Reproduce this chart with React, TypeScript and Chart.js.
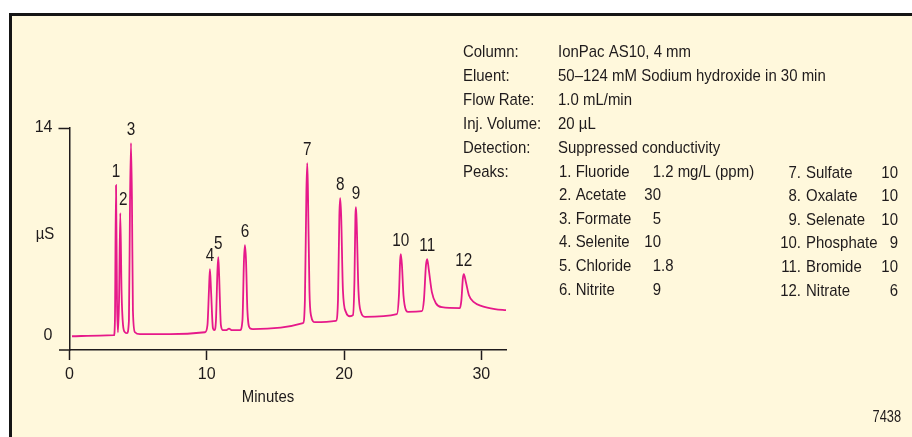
import React, { useEffect, useRef } from "react";
import { Chart, registerables } from "chart.js";

Chart.register(...registerables);

// ---- Data ----
const times = [
  0.18, 2.22, 3.24, 3.31, 3.39, 3.46, 3.53, 3.61, 3.70, 3.79, 3.90, 4.04, 4.19,
  4.33, 4.41, 4.48, 4.55, 4.62, 4.77, 5.13, 7.32, 9.87, 10.05, 10.16, 10.23,
  10.31, 10.45, 10.56, 10.67, 10.78, 10.84, 10.90, 11.03, 11.18, 11.40, 11.62,
  11.84, 12.42, 12.60, 12.71, 12.78, 12.86, 12.96, 13.15, 13.36, 17.01, 17.15,
  17.26, 17.32, 17.37, 17.48, 17.59, 17.88, 19.41, 19.56, 19.66, 19.72, 19.79,
  19.92, 20.14, 20.43, 20.65, 20.76, 20.83, 20.87, 20.92, 21.05, 21.23, 21.52,
  23.85, 24.00, 24.09, 24.14, 24.22, 24.33, 24.51, 24.65, 25.67, 25.82, 25.97,
  26.06, 26.18, 26.40, 26.69, 27.13, 28.44, 28.55, 28.66, 28.73, 28.88, 29.10,
  29.46, 30.04, 30.99, 31.84,
];
const signal = [
  -0.07, -0.03, 0.0, 1.01, 10.14, 2.37, 0.2, 2.37, 8.25, 3.04, 0.68, 0.2, 0.14,
  1.01, 9.13, 12.98, 9.13, 1.69, 0.2, 0.07, 0.07, 0.2, 0.68, 3.04, 4.46,
  3.04, 0.47, 0.34, 1.01, 4.39, 5.27, 4.06, 0.68, 0.34, 0.34, 0.44,
  0.34, 0.34, 1.01, 5.07, 6.09, 5.07, 1.69, 0.47, 0.41, 0.81, 2.37,
  9.8, 11.63, 9.8, 3.04, 1.35, 0.88, 0.97, 2.37, 8.11, 9.26, 8.11,
  3.04, 1.56, 1.28, 1.35, 3.72, 8.11, 8.65, 7.64, 3.04, 1.56, 1.24,
  1.42, 2.7, 5.07, 5.48, 4.73, 2.7, 1.69, 1.58, 1.62, 2.37, 4.73,
  5.14, 4.39, 2.91, 2.16, 1.89, 1.83, 2.37, 3.85, 4.12, 3.58, 2.7,
  2.23, 1.96, 1.76, 1.69,
];

const xTicks = [0, 10, 20, 30];
const yTicks = [0, 14];

const peakApexTimes = [3.39, 3.7, 4.48, 10.23, 10.84, 12.78, 17.32, 19.72, 20.87, 24.14, 26.06, 28.73];
const peakNames = [
  "Fluoride", "Acetate", "Formate", "Selenite", "Chloride", "Nitrite",
  "Sulfate", "Oxalate", "Selenate", "Phosphate", "Bromide", "Nitrate",
];
const peakConc = ["1.2 mg/L (ppm)", "30", "5", "10", "1.8", "9", "10", "10", "10", "9", "10", "6"];

const infoLabels = ["Column:", "Eluent:", "Flow Rate:", "Inj. Volume:", "Detection:", "Peaks:"];
const infoValues = [
  "IonPac AS10, 4 mm",
  "50\u2013124 mM Sodium hydroxide in 30 min",
  "1.0 mL/min",
  "20 \u00b5L",
  "Suppressed conductivity",
];

const yAxisTitle = "\u00b5S";
const xAxisTitle = "Minutes";
const figureNumber = "7438";

// ---- Styles ----
const FONT = '"Liberation Sans", Arial, sans-serif';
const SX = 0.88; // horizontal condensing of annotation text
const TEXT = "#1f1b1c";
const LINE = "#e6198a";
const CREAM = "#fff8dc";

function drawText(ctx: CanvasRenderingContext2D, s: string, x: number, y: number, align: CanvasTextAlign, sx = SX) {
  ctx.save();
  ctx.translate(x, y);
  ctx.scale(sx, 1);
  ctx.textAlign = align;
  ctx.fillText(s, 0, 0);
  ctx.restore();
}

const decorPlugin = {
  id: "decor",
  beforeDraw(chart: any) {
    const { ctx, width, height } = chart;
    ctx.save();
    ctx.fillStyle = "#ffffff";
    ctx.fillRect(0, 0, width, height);
    ctx.fillStyle = CREAM;
    ctx.fillRect(9, 13, width - 9, height - 13);
    ctx.fillStyle = "#151515";
    ctx.fillRect(9, 13, 3, height - 13);
    ctx.fillRect(9, 13, width - 9, 3);
    ctx.restore();
  },
  afterDraw(chart: any) {
    const { ctx } = chart;
    const xs = chart.scales.x;
    const ys = chart.scales.y;
    ctx.save();
    // x-axis extension to the left of the y axis
    ctx.strokeStyle = TEXT;
    ctx.lineWidth = 1.5;
    ctx.beginPath();
    ctx.moveTo(59, ys.bottom);
    ctx.lineTo(xs.left, ys.bottom);
    ctx.stroke();

    ctx.fillStyle = TEXT;
    ctx.textBaseline = "middle";
    ctx.font = `17px ${FONT}`;

    // axis titles
    drawText(ctx, yAxisTitle, 45, 234, "center");
    drawText(ctx, xAxisTitle, 268, 397, "center");

    // info block
    infoLabels.forEach((l, i) => drawText(ctx, l, 463, 52 + i * 24, "left"));
    infoValues.forEach((v, i) => drawText(ctx, v, 558, 52 + i * 24, "left"));

    // peaks list, left column
    for (let i = 0; i < 6; i++) {
      const y = 172 + i * 23.6;
      drawText(ctx, `${i + 1}. ${peakNames[i]}`, 559, y, "left");
      const c = peakConc[i];
      const dot = c.indexOf(".");
      if (dot >= 0) {
        const w = ctx.measureText(c.slice(0, dot)).width * SX;
        drawText(ctx, c, 661 - w, y, "left");
      } else {
        drawText(ctx, c, 661, y, "right");
      }
    }
    // right column
    for (let i = 6; i < 12; i++) {
      const y = 173 + (i - 6) * 23.6;
      drawText(ctx, `${i + 1}.`, 801, y, "right");
      drawText(ctx, peakNames[i], 806, y, "left");
      drawText(ctx, peakConc[i], 898, y, "right");
    }

    // peak labels
    ctx.font = `18px ${FONT}`;
    peakApexTimes.forEach((t, i) => {
      let best = 0;
      let bestV = -Infinity;
      times.forEach((tt, j) => {
        if (Math.abs(tt - t) < 0.06 && signal[j] > bestV) {
          bestV = signal[j];
          best = j;
        }
      });
      const px = xs.getPixelForValue(times[best]) + (i === 1 ? 3 : 0);
      const py = ys.getPixelForValue(bestV) - 13;
      drawText(ctx, String(i + 1), px, py, "center", 0.85);
    });

    ctx.font = `16px ${FONT}`;
    drawText(ctx, figureNumber, 901, 418, "right", 0.8);
    ctx.restore();
  },
};

export default function App() {
  const ref = useRef<HTMLCanvasElement | null>(null);
  useEffect(() => {
    if (!ref.current) return;
    const points = times.map((t, i) => ({ x: t, y: signal[i] }));
    const chart = new Chart(ref.current, {
      type: "line",
      data: {
        datasets: [
          {
            data: points,
            borderColor: LINE,
            borderWidth: 1.8,
            pointRadius: 0,
            cubicInterpolationMode: "monotone",
            fill: false,
          },
        ],
      },
      options: {
        animation: false,
        responsive: false,
        devicePixelRatio: 1,
        layout: { padding: { left: 0, top: 128, right: 406, bottom: 0 } },
        plugins: { legend: { display: false }, tooltip: { enabled: false } },
        scales: {
          x: {
            type: "linear",
            min: 0,
            max: 31.8,
            afterBuildTicks: (s: any) => {
              s.ticks = xTicks.map((v) => ({ value: v }));
            },
            afterFit: (s: any) => {
              s.height = 87;
            },
            grid: { drawOnChartArea: false, tickLength: 10, tickColor: TEXT, tickWidth: 1.5 },
            border: { display: true, color: TEXT, width: 1.5 },
            ticks: { color: TEXT, padding: 5, maxRotation: 0, font: { family: FONT, size: 16 } },
          },
          y: {
            type: "linear",
            min: -1,
            max: 14,
            afterBuildTicks: (s: any) => {
              s.ticks = yTicks.map((v) => ({ value: v }));
            },
            afterFit: (s: any) => {
              s.width = 69.5;
            },
            grid: {
              drawOnChartArea: false,
              tickLength: 11,
              tickWidth: 1.5,
              tickColor: (c: any) => (c.tick && c.tick.value === 14 ? TEXT : "rgba(0,0,0,0)"),
            },
            border: { display: true, color: TEXT, width: 1.5 },
            ticks: { color: TEXT, padding: 6, font: { family: FONT, size: 16 } },
          },
        },
      },
      plugins: [decorPlugin],
    } as any);
    return () => chart.destroy();
  }, []);
  return (
    <div style={{ position: "fixed", left: 0, top: 0, width: 912, height: 437 }}>
      <canvas ref={ref} width={912} height={437} style={{ display: "block" }} />
    </div>
  );
}
